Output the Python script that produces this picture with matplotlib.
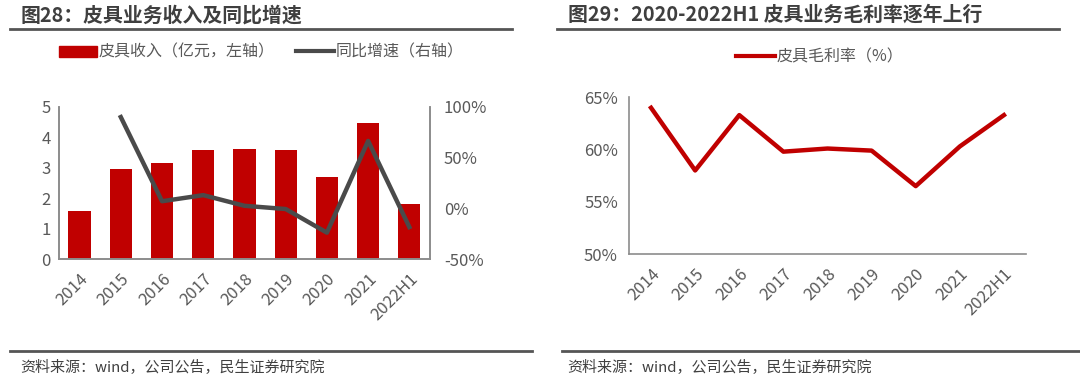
import numpy as np
import matplotlib.pyplot as plt
from matplotlib.lines import Line2D
from matplotlib.ticker import FuncFormatter

plt.rcParams['font.family'] = ['Noto Sans CJK SC', 'DejaVu Sans']

# 数据
years = ["2014", "2015", "2016", "2017", "2018", "2019", "2020", "2021", "2022H1"]
revenue = [1.58, 2.97, 3.16, 3.57, 3.62, 3.58, 2.71, 4.47, 1.82]   # 亿元
growth = [np.nan, 90, 7, 13, 2.5, -0.7, -24, 66.5, -18.5]           # %
margin = [64.0, 58.0, 63.3, 59.8, 60.1, 59.9, 56.5, 60.3, 63.3]     # %

red = "#C00000"
gray_line = "#4a4a4a"
txt = "#595959"
axc = "#8c8c8c"

fig = plt.figure(figsize=(10.8, 3.84), dpi=100)
x = np.arange(len(years))

# 左图：柱状+折线
ax1 = fig.add_axes([0.0546, 0.3255, 0.3435, 0.396])
ax1.bar(x, revenue, width=0.54, color=red)
ax1.set_ylim(0, 5)
ax1.set_xlim(-0.5, len(years) - 0.5)
ax1.set_yticks(range(6))
ax2 = ax1.twinx()
ax2.plot(x, growth, color=gray_line, lw=3.2)
ax2.set_ylim(-50, 100)
ax2.set_yticks([-50, 0, 50, 100])
ax2.yaxis.set_major_formatter(FuncFormatter(lambda v, p: f"{v:.0f}%"))

for a in (ax1, ax2):
    a.spines['top'].set_visible(False)
    for s in ('left', 'right', 'bottom'):
        a.spines[s].set_color(axc)
        a.spines[s].set_linewidth(1.2)
    a.tick_params(length=0, labelsize=12, colors=txt, pad=6)
ax2.tick_params(pad=10)
ax1.set_xticks(x)
ax1.set_xticklabels(years, rotation=45, ha='right', rotation_mode='anchor')
ax1.tick_params(axis='x', pad=8)

h1 = plt.Rectangle((0, 0), 1, 1, color=red)
h2 = Line2D([0], [0], color=gray_line, lw=3)
fig.legend([h1, h2], ["皮具收入（亿元，左轴）", "同比增速（右轴）"],
           loc='center', bbox_to_anchor=(0.242, 0.864), ncol=2, frameon=False,
           fontsize=11.5, labelcolor=txt, handlelength=2.4, handletextpad=0.1,
           columnspacing=1.3)

# 右图：毛利率
ax3 = fig.add_axes([0.5824, 0.3385, 0.3676, 0.408])
ax3.plot(x, margin, color=red, lw=3.2)
ax3.set_ylim(50, 65)
ax3.set_xlim(-0.5, len(years) - 0.5)
ax3.set_yticks([50, 55, 60, 65])
ax3.yaxis.set_major_formatter(FuncFormatter(lambda v, p: f"{v:.0f}%"))
ax3.set_xticks(x)
ax3.set_xticklabels(years, rotation=45, ha='right', rotation_mode='anchor')
for s in ('top', 'right'):
    ax3.spines[s].set_visible(False)
for s in ('left', 'bottom'):
    ax3.spines[s].set_color(axc)
    ax3.spines[s].set_linewidth(1.2)
ax3.tick_params(length=0, labelsize=12, colors=txt, pad=8)

h3 = Line2D([0], [0], color=red, lw=3)
fig.legend([h3], ["皮具毛利率（%）"], loc='center', bbox_to_anchor=(0.759, 0.852),
           frameon=False, fontsize=11.5, labelcolor=txt, handlelength=2.4,
           handletextpad=0.1)

# 标题和分隔线
fig.text(0.019, 0.962, "图28：皮具业务收入及同比增速", fontsize=14.3, fontweight='bold',
         color="#3f3f3f", va='center')
fig.text(0.526, 0.962, "图29：2020-2022H1 皮具业务毛利率逐年上行", fontsize=14.3,
         fontweight='bold', color="#3f3f3f", va='center')
fig.add_artist(Line2D([0.009, 0.474], [0.925, 0.925], color="#555555", lw=2))
fig.add_artist(Line2D([0.516, 0.981], [0.925, 0.925], color="#555555", lw=2))

# 资料来源
fig.add_artist(Line2D([0.009, 0.493], [0.086, 0.086], color="#555555", lw=2))
fig.add_artist(Line2D([0.52, 1.0], [0.086, 0.086], color="#555555", lw=2))
fig.text(0.019, 0.044, "资料来源：wind，公司公告，民生证券研究院", fontsize=10.8,
         color="#404040", va='center')
fig.text(0.525, 0.044, "资料来源：wind，公司公告，民生证券研究院", fontsize=10.8,
         color="#404040", va='center')

fig.savefig("out.png", dpi=100)
